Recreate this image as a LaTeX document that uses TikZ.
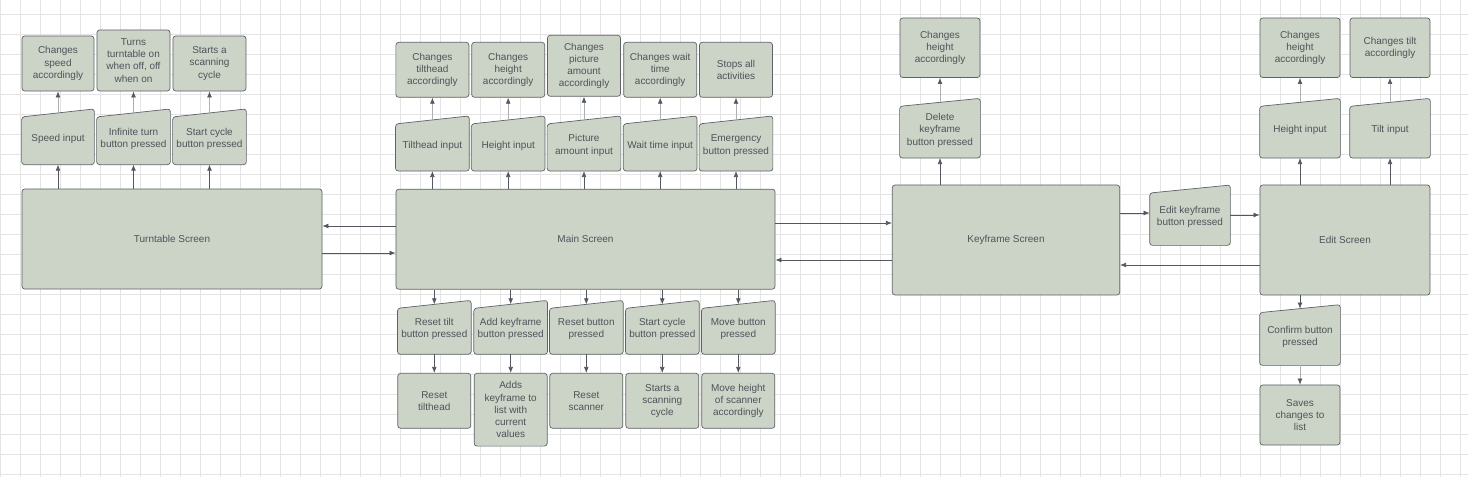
\documentclass[tikz,border=0pt]{standalone}
\usepackage{fontspec}
\newfontfamily\diagfont{Liberation Sans}
\usetikzlibrary{arrows.meta,backgrounds}
\definecolor{boxfill}{RGB}{204,211,199}
\definecolor{boxline}{RGB}{95,99,102}
\definecolor{boxtext}{RGB}{78,83,89}
\definecolor{linedark}{RGB}{84,88,94}
\definecolor{linelight}{RGB}{172,176,180}
\definecolor{gridline}{RGB}{228,228,228}

\begin{document}
\begin{tikzpicture}[x=0.025cm, y=-0.025cm,
        box/.style={draw=boxline, fill=boxfill, line width=0.5pt, rounded corners=2pt, align=center,
            text=boxtext, font=\diagfont\fontsize{7.1}{8.7}\selectfont, inner sep=1pt},
        inbox/.style={box, draw=none, fill=none},
        outline/.style={draw=boxline, fill=boxfill, line width=0.5pt, rounded corners=2pt},
        flow/.style={draw=linedark, line width=0.5pt, -{Latex[length=1.5mm,width=1.2mm]}},
        flowlight/.style={flow, draw=linelight, -{Latex[length=1.5mm,width=1.2mm,color=linedark]}}]
        \useasboundingbox (0,0) rectangle (1468,477);

        % turntable part
        \node[box, minimum width=1.8cm, minimum height=1.375cm] (speedout) at (58,63.5) {Changes\\speed\\accordingly};
        \node[box, minimum width=1.825cm, minimum height=1.525cm] (infout) at (133.5,60.5) {Turns\\turntable on\\when off, off\\when on};
        \node[box, minimum width=1.825cm, minimum height=1.375cm] (cycout) at (209.5,63.5) {Starts a\\scanning\\cycle};
        \node[inbox, minimum width=1.8cm, minimum height=1.275cm] (speedin) at (58,138.8) {Speed input};
        \node[inbox, minimum width=1.825cm, minimum height=1.275cm] (infin) at (133.5,138.8) {Infinite turn\\button pressed};
        \node[inbox, minimum width=1.825cm, minimum height=1.275cm] (cycin) at (209.5,138.8) {Start cycle\\button pressed};
        \node[box, minimum width=7.5cm, minimum height=2.5cm] (turn) at (172,239) {Turntable Screen};

        % main part
        \node[box, minimum width=1.825cm, minimum height=1.375cm] (tiltout) at (432.4,69.8) {Changes\\tilthead\\accordingly};
        \node[box, minimum width=1.825cm, minimum height=1.375cm] (heightout) at (508.2,69.8) {Changes\\height\\accordingly};
        \node[box, minimum width=1.825cm, minimum height=1.525cm] (picout) at (584,65.8) {Changes\\picture\\amount\\accordingly};
        \node[box, minimum width=1.825cm, minimum height=1.375cm] (waitout) at (660.2,69.8) {Changes wait\\time\\accordingly};
        \node[box, minimum width=1.825cm, minimum height=1.375cm] (emout) at (736,69.8) {Stops all\\activities};
        \node[inbox, minimum width=1.825cm, minimum height=1.26cm] (tiltin) at (432.4,145.5) {Tilthead input};
        \node[inbox, minimum width=1.825cm, minimum height=1.26cm] (heightin) at (508.2,145.5) {Height input};
        \node[inbox, minimum width=1.825cm, minimum height=1.26cm] (picin) at (584,145.5) {Picture\\amount input};
        \node[inbox, minimum width=1.825cm, minimum height=1.26cm] (waitin) at (660.2,145.5) {Wait time input};
        \node[inbox, minimum width=1.825cm, minimum height=1.26cm] (emin) at (736,145.5) {Emergency\\button pressed};
        \node[box, minimum width=9.475cm, minimum height=2.5cm] (main) at (585.5,239.2) {Main Screen};
        \node[inbox, minimum width=1.825cm, minimum height=1.23cm] (rtiltin) at (434.3,329.3) {Reset tilt\\button pressed};
        \node[inbox, minimum width=1.825cm, minimum height=1.23cm] (addin) at (510.7,329.3) {Add keyframe\\button pressed};
        \node[inbox, minimum width=1.825cm, minimum height=1.23cm] (resetin) at (586.3,329.3) {Reset button\\pressed};
        \node[inbox, minimum width=1.825cm, minimum height=1.23cm] (startin) at (662.3,329.3) {Start cycle\\button pressed};
        \node[inbox, minimum width=1.825cm, minimum height=1.23cm] (movein) at (738.3,329.3) {Move button\\pressed};
        \node[box, minimum width=1.825cm, minimum height=1.375cm] (rtiltout) at (434.3,400.8) {Reset\\tilthead};
        \node[box, minimum width=1.825cm, minimum height=1.82cm] (addout) at (510.7,409.7) {Adds\\keyframe to\\list with\\current\\values};
        \node[box, minimum width=1.825cm, minimum height=1.375cm] (resetout) at (586.3,400.8) {Reset\\scanner};
        \node[box, minimum width=1.825cm, minimum height=1.375cm] (startout) at (662.3,400.8) {Starts a\\scanning\\cycle};
        \node[box, minimum width=1.825cm, minimum height=1.375cm] (moveout) at (738.3,400.8) {Move height\\of scanner\\accordingly};

        % keyframe part
        \node[box, minimum width=2cm, minimum height=1.49cm] (delout) at (940,47.8) {Changes\\height\\accordingly};
        \node[inbox, minimum width=2cm, minimum height=1.375cm] (delin) at (940,130.2) {Delete\\keyframe\\button pressed};
        \node[box, minimum width=5.685cm, minimum height=2.75cm] (key) at (1006,240) {Keyframe Screen};
        \node[inbox, minimum width=2cm, minimum height=1.39cm] (editkin) at (1190,217.2) {Edit keyframe\\button pressed};

        % edit part
        \node[box, minimum width=4.25cm, minimum height=2.75cm] (edit) at (1345,240) {Edit Screen};
        \node[box, minimum width=2cm, minimum height=1.49cm] (hout) at (1300,47.8) {Changes\\height\\accordingly};
        \node[box, minimum width=2cm, minimum height=1.49cm] (tout) at (1390,47.8) {Changes tilt\\accordingly};
        \node[inbox, minimum width=2cm, minimum height=1.375cm] (hin) at (1300,130.2) {Height input};
        \node[inbox, minimum width=2cm, minimum height=1.375cm] (tin) at (1390,130.2) {Tilt input};
        \node[inbox, minimum width=2cm, minimum height=1.4cm] (confin) at (1300,337) {Confirm button\\pressed};
        \node[box, minimum width=2cm, minimum height=1.5cm] (saveout) at (1300,415) {Saves\\changes to\\list};

        \begin{scope}[on background layer]
            \fill[white] (0,0) rectangle (1468,477);
            \foreach \gx in {0, 20, ..., 1460}{
                \draw[gridline, line width=0.4pt] (\gx,0) -- (\gx,477);
            }
            \foreach \gy in {14, 34, ..., 474}{
                \draw[gridline, line width=0.4pt] (0,\gy) -- (1468,\gy);
            }
            \foreach \n in {speedin, infin, cycin, tiltin, heightin, picin, waitin, emin,
                    rtiltin, addin, resetin, startin, movein, delin, editkin, hin, tin, confin}{
                \draw[outline] (\n.south west) -- ([yshift=-0.1cm]\n.north west)
                    -- ([yshift=0.1cm]\n.north east) -- (\n.south east) -- cycle;
            }
        \end{scope}

        % connectors
        \foreach \a/\b in {speedin/speedout, infin/infout, cycin/cycout, tiltin/tiltout, heightin/heightout,
                picin/picout, waitin/waitout, emin/emout, delin/delout, hin/hout, tin/tout}{
            \draw[flowlight] (\a.north) -- (\b.south);
        }
        \foreach \a in {speedin, infin, cycin}{
            \draw[flow] (\a.south |- turn.north) -- (\a.south);
        }
        \foreach \a in {tiltin, heightin, picin, waitin, emin}{
            \draw[flow] (\a.south |- main.north) -- (\a.south);
        }
        \foreach \a/\b in {rtiltin/rtiltout, addin/addout, resetin/resetout, startin/startout, movein/moveout}{
            \draw[flow] (\a.north |- main.south) -- (\a.north);
            \draw[flow] (\a.south) -- (\b.north);
        }
        \draw[flow] (delin.south |- key.north) -- (delin.south);
        \draw[flow] (hin.south |- edit.north) -- (hin.south);
        \draw[flow] (tin.south |- edit.north) -- (tin.south);
        \draw[flow] (confin.north |- edit.south) -- (confin.north);
        \draw[flowlight] (confin.south) -- (saveout.north);

        \draw[flow] (main.west |- 0,226) -- (turn.east |- 0,226);
        \draw[flow] (turn.east |- 0,253) -- (main.west |- 0,253);
        \draw[flow] (main.east |- 0,223) -- (key.west |- 0,223);
        \draw[flow] (key.west |- 0,260) -- (main.east |- 0,260);
        \draw[flow] (key.east |- 0,213) -- (editkin.west |- 0,213);
        \draw[flow] (editkin.east |- 0,215) -- (edit.west |- 0,215);
        \draw[flow] (edit.west |- 0,265) -- (key.east |- 0,265);
    \end{tikzpicture}
\end{document}
